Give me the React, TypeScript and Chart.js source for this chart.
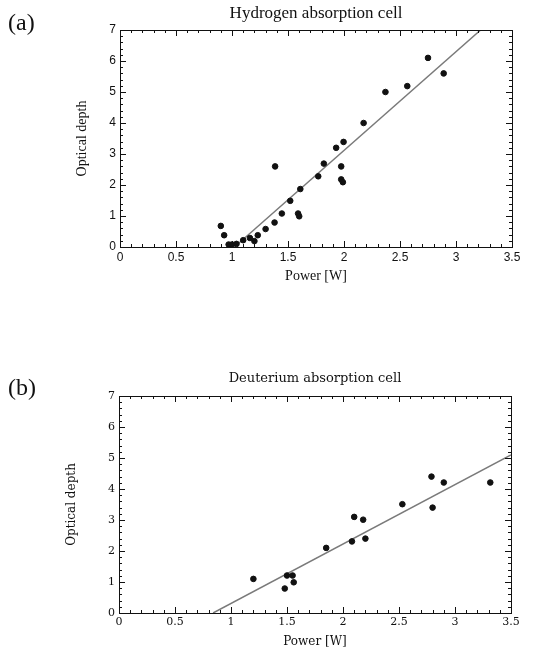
import React, { useEffect, useRef } from "react";
import { Chart, registerables } from "chart.js";
Chart.register(...registerables);

// ---- Data: (a) Hydrogen absorption cell ----
const H_POWER = [0.9, 0.93, 0.97, 1.0, 1.04, 1.1, 1.16, 1.2, 1.23, 1.3, 1.38, 1.385, 1.445, 1.52, 1.59, 1.6, 1.61, 1.77, 1.82, 1.93, 1.975, 1.975, 1.99, 1.996, 2.175, 2.37, 2.565, 2.75, 2.89];
const H_DEPTH = [0.68, 0.38, 0.08, 0.08, 0.1, 0.22, 0.29, 0.19, 0.38, 0.58, 0.79, 2.6, 1.08, 1.49, 1.08, 0.99, 1.87, 2.28, 2.69, 3.2, 2.6, 2.18, 2.09, 3.39, 4.0, 5.0, 5.19, 6.1, 5.6];
const H_FIT_POWER = [1.06, 3.22];
const H_FIT_DEPTH = [0.12, 7.0];

// ---- Data: (b) Deuterium absorption cell ----
const D_POWER = [1.2, 1.48, 1.5, 1.55, 1.56, 1.85, 2.08, 2.1, 2.18, 2.2, 2.53, 2.79, 2.8, 2.9, 3.315];
const D_DEPTH = [1.1, 0.79, 1.21, 1.21, 0.99, 2.1, 2.31, 3.1, 3.01, 2.4, 3.51, 4.4, 3.4, 4.21, 4.21];
const D_FIT_POWER = [0.84, 3.5];
const D_FIT_DEPTH = [0.0, 5.1];

// ---- Axis ticks ----
const X_MIN = 0, X_MAX = 3.5, X_MAJOR = 0.5, X_MINOR = 0.1;
const Y_MIN = 0, Y_MAX = 7, Y_MAJOR = 1, Y_MINOR = 0.2;

const pts = (xs: number[], ys: number[]) => xs.map((x, i) => ({ x, y: ys[i] }));
const fmt = (v: any) => String(Math.round(Number(v) * 10) / 10);

type PanelProps = {
  top: number; height: number;
  title: string; label: string;
  xs: number[]; ys: number[]; fx: number[]; fy: number[];
  pad: { top: number; left: number; right: number; bottom: number };
  yWidth: number; xHeight: number;
  titleY: number; labelY: number;
  titleFont: string; labelFont: string;
  tickFamily: string; tickSize: number;
  axisFamily: string; axisSize: number;
  yTitlePad: number; xTitlePad: number;
};

function Panel(p: PanelProps) {
  const ref = useRef<HTMLCanvasElement | null>(null);
  useEffect(() => {
    const canvas = ref.current!;
    const decor = {
      id: "decor",
      afterDraw(chart: any) {
        const { ctx, chartArea } = chart;
        const { left, right, top, bottom } = chartArea;
        const xs = chart.scales.x, ys = chart.scales.y;
        ctx.save();
        ctx.strokeStyle = "#111";
        ctx.lineWidth = 1;
        ctx.strokeRect(Math.round(left) + 0.5, Math.round(top) + 0.5, Math.round(right - left), Math.round(bottom - top));
        ctx.beginPath();
        const nx = Math.round((X_MAX - X_MIN) / X_MINOR);
        const perX = Math.round(X_MAJOR / X_MINOR);
        for (let i = 1; i < nx; i++) {
          const px = Math.round(xs.getPixelForValue(X_MIN + i * X_MINOR)) + 0.5;
          const len = i % perX === 0 ? 6 : 3;
          ctx.moveTo(px, bottom); ctx.lineTo(px, bottom - len);
          ctx.moveTo(px, top); ctx.lineTo(px, top + len);
        }
        const ny = Math.round((Y_MAX - Y_MIN) / Y_MINOR);
        const perY = Math.round(Y_MAJOR / Y_MINOR);
        for (let i = 1; i < ny; i++) {
          const py = Math.round(ys.getPixelForValue(Y_MIN + i * Y_MINOR)) + 0.5;
          const len = i % perY === 0 ? 6 : 3;
          ctx.moveTo(left, py); ctx.lineTo(left + len, py);
          ctx.moveTo(right, py); ctx.lineTo(right - len, py);
        }
        ctx.stroke();
        ctx.fillStyle = "#111";
        ctx.textBaseline = "middle";
        ctx.textAlign = "center";
        ctx.font = p.titleFont;
        ctx.fillText(p.title, (left + right) / 2, p.titleY);
        ctx.textAlign = "left";
        ctx.font = p.labelFont;
        ctx.fillText(p.label, 8, p.labelY);
        ctx.restore();
      },
    };
    const tickFont = { family: p.tickFamily, size: p.tickSize };
    const axisFont = { family: p.axisFamily, size: p.axisSize };
    const chart = new Chart(canvas, {
      type: "scatter",
      data: {
        datasets: [
          {
            type: "line",
            data: pts(p.fx, p.fy),
            borderColor: "#7a7a7a",
            borderWidth: 1.5,
            pointRadius: 0,
            fill: false,
            order: 2,
          } as any,
          {
            data: pts(p.xs, p.ys),
            backgroundColor: "#111",
            borderColor: "#111",
            pointRadius: 2.8,
            order: 1,
          },
        ],
      },
      options: {
        animation: false,
        responsive: false,
        devicePixelRatio: 1,
        layout: { padding: p.pad },
        plugins: { legend: { display: false }, tooltip: { enabled: false }, title: { display: false } },
        scales: {
          x: {
            type: "linear",
            min: X_MIN, max: X_MAX,
            grid: { display: false, drawTicks: false },
            border: { display: false },
            ticks: { stepSize: X_MAJOR, color: "#111", font: tickFont, padding: 3, maxRotation: 0, callback: fmt },
            title: { display: true, text: "Power [W]", color: "#111", font: axisFont, padding: { top: 0, bottom: p.xTitlePad } },
            afterFit: (s: any) => { s.height = p.xHeight; },
          },
          y: {
            type: "linear",
            min: Y_MIN, max: Y_MAX,
            grid: { display: false, drawTicks: false },
            border: { display: false },
            ticks: { stepSize: Y_MAJOR, color: "#111", font: tickFont, padding: 4, callback: fmt },
            title: { display: true, text: "Optical depth", color: "#111", font: axisFont, padding: { top: p.yTitlePad, bottom: 0 } },
            afterFit: (s: any) => { s.width = p.yWidth; },
          },
        },
      },
      plugins: [decor],
    });
    return () => chart.destroy();
  }, []);
  return (
    <canvas
      ref={ref}
      width={540}
      height={p.height}
      style={{ position: "absolute", left: 0, top: p.top, width: 540, height: p.height, display: "block" }}
    />
  );
}

export default function App() {
  return (
    <div style={{ position: "fixed", left: 0, top: 0, width: 540, height: 653, background: "#fff", overflow: "hidden" }}>
      <Panel
        top={0} height={300}
        title="Hydrogen absorption cell" label="(a)"
        xs={H_POWER} ys={H_DEPTH} fx={H_FIT_POWER} fy={H_FIT_DEPTH}
        pad={{ top: 30, left: 70, right: 28, bottom: 13 }}
        yWidth={50} xHeight={40}
        titleY={14} labelY={24}
        titleFont="17px 'Liberation Serif'" labelFont="24px 'Liberation Serif'"
        tickFamily="'Liberation Sans', sans-serif" tickSize={12}
        axisFamily="'Liberation Serif', serif" axisSize={14}
        yTitlePad={4} xTitlePad={2}
      />
      <Panel
        top={330} height={323}
        title="Deuterium absorption cell" label="(b)"
        xs={D_POWER} ys={D_DEPTH} fx={D_FIT_POWER} fy={D_FIT_DEPTH}
        pad={{ top: 66, left: 60, right: 29, bottom: 0 }}
        yWidth={59} xHeight={40}
        titleY={49} labelY={59}
        titleFont="13px 'DejaVu Serif'" labelFont="24px 'Liberation Serif'"
        tickFamily="'DejaVu Serif', serif" tickSize={11}
        axisFamily="'DejaVu Serif', serif" axisSize={12}
        yTitlePad={5} xTitlePad={4}
      />
    </div>
  );
}
